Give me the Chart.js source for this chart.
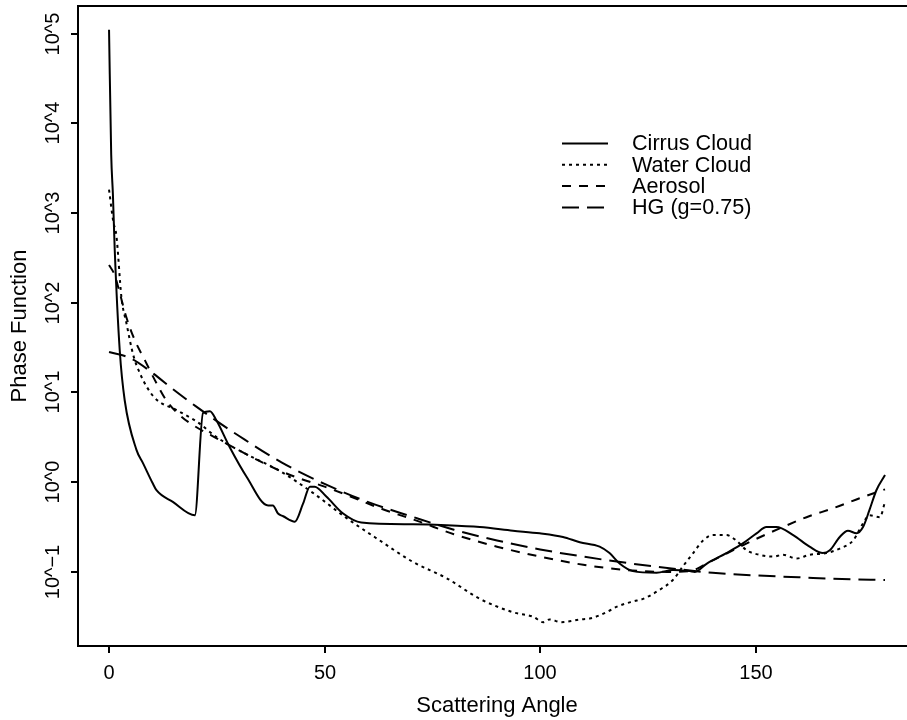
<!DOCTYPE html>
<html>
<head>
<meta charset="utf-8">
<script src="https://cdn.jsdelivr.net/npm/chart.js@4.4.1/dist/chart.umd.min.js"></script>
<style>
html,body{margin:0;padding:0;background:#fff;overflow:hidden}
#wrap{width:907px;height:720px;position:relative}
</style>
</head>
<body>
<div id="wrap"><canvas id="c" width="907" height="720"></canvas></div>
<script>
// ---- data ----
const seriesNames = ['Cirrus Cloud', 'Water Cloud', 'Aerosol', 'HG (g=0.75)'];

const cirrusAngle = [0, 0.5, 0.9, 1.32, 2.48, 3.64, 6.36, 7.9, 10.1, 11.0, 14.8, 19.9, 21.8, 23.4, 24.9, 28.0, 31.9, 36.9, 38.0, 39.2, 40.4, 43.1, 45.0, 46.6, 47.7, 50.4, 54.3, 58.5, 70.5, 78.3, 86.0, 93.7, 99.9, 105.3, 109.2, 113.8, 116.1, 118.5, 121.5, 127.0, 130.8, 134.7, 135.9, 138.6, 143.2, 147.1, 150.2, 152.5, 154.8, 158.7, 162.5, 165.6, 167.2, 169.5, 171.4, 173.4, 174.9, 176.4, 178.0, 180];
const cirrusValue = [110000, 4500, 1600, 390, 29.5, 8.13, 2.29, 1.62, 0.977, 0.813, 0.603, 0.427, 5.89, 6.17, 4.90, 2.45, 1.15, 0.55, 0.55, 0.447, 0.417, 0.363, 0.575, 0.891, 0.891, 0.692, 0.447, 0.355, 0.339, 0.331, 0.316, 0.288, 0.269, 0.245, 0.214, 0.191, 0.162, 0.123, 0.102, 0.0977, 0.105, 0.102, 0.100, 0.123, 0.162, 0.209, 0.269, 0.316, 0.316, 0.257, 0.191, 0.162, 0.174, 0.245, 0.288, 0.269, 0.316, 0.490, 0.813, 1.20];

const waterAngle = [0, 1.0, 1.7, 2.9, 4.0, 5.6, 7.3, 10.4, 15.8, 20.5, 25.0, 31.5, 39.4, 47.3, 55.1, 62.8, 70.5, 78.3, 86.0, 93.7, 98.4, 100.7, 102.2, 104.9, 109.2, 111.5, 115.4, 117.7, 121.5, 123.9, 127.7, 130.8, 133.1, 135.5, 137.8, 140.1, 143.2, 145.5, 147.9, 150.9, 154.0, 156.3, 159.5, 162.5, 166.4, 169.5, 172.6, 174.9, 176.4, 178.8, 180];
const waterValue = [1820, 794, 562, 112, 60.3, 26.3, 15.8, 8.91, 6.31, 4.68, 3.16, 2.09, 1.35, 0.759, 0.398, 0.224, 0.129, 0.0851, 0.0501, 0.0355, 0.0316, 0.0275, 0.0295, 0.0275, 0.0295, 0.0302, 0.0355, 0.0407, 0.0468, 0.0501, 0.0631, 0.0813, 0.115, 0.162, 0.224, 0.257, 0.257, 0.224, 0.174, 0.155, 0.148, 0.155, 0.141, 0.155, 0.162, 0.182, 0.224, 0.347, 0.427, 0.407, 0.603];

const aerosolAngle = [0, 1.3, 2.1, 4.0, 6.0, 8.3, 10.6, 13.3, 16.8, 20.0, 23.8, 29.9, 37.7, 43.1, 50.0, 55.0, 62.8, 72.0, 80.0, 90.0, 100.0, 110.0, 120.0, 129.3, 134.7, 139.3, 144.7, 150.2, 156.3, 161.8, 168.0, 174.1, 180];
const aerosolValue = [263, 204, 151, 69.2, 38.0, 22.9, 13.8, 8.13, 5.37, 4.17, 3.31, 2.29, 1.48, 1.15, 0.891, 0.724, 0.513, 0.363, 0.263, 0.191, 0.148, 0.120, 0.105, 0.100, 0.102, 0.129, 0.174, 0.234, 0.316, 0.407, 0.513, 0.661, 0.832];

const hgAngle = [0, 5, 10, 15, 20, 25, 30, 40, 50, 60, 70, 80, 90, 100, 110, 120, 130, 140, 150, 160, 170, 180];
const hgValue = [28.2, 24.0, 16.6, 10.7, 7.08, 4.79, 3.31, 1.66, 0.955, 0.603, 0.417, 0.295, 0.224, 0.178, 0.148, 0.126, 0.110, 0.0977, 0.0912, 0.0871, 0.0832, 0.0813];

const xTickValues = [0, 50, 100, 150];
const xTickLabels = ['0', '50', '100', '150'];
const yTickValues = [0.1, 1, 10, 100, 1000, 10000, 100000];
const yTickLabels = ['10^\u22121', '10^0', '10^1', '10^2', '10^3', '10^4', '10^5'];
const xTitle = 'Scattering Angle';
const yTitle = 'Phase Function';

// ---- build datasets ----
function pairs(xs, ys) { return xs.map((x, i) => ({ x: x, y: ys[i] })); }
const dashes = [[], [3, 4], [9, 8], [17, 8]];
const seriesData = [pairs(cirrusAngle, cirrusValue), pairs(waterAngle, waterValue), pairs(aerosolAngle, aerosolValue), pairs(hgAngle, hgValue)];

const datasets = seriesNames.map((name, i) => ({
  label: name,
  data: seriesData[i],
  borderColor: '#000',
  backgroundColor: '#000',
  borderWidth: 2,
  borderDash: dashes[i],
  pointRadius: 0,
  fill: false,
  cubicInterpolationMode: 'monotone'
}));

const FONT = '"Liberation Sans", Arial, Helvetica, sans-serif';

const framePlugin = {
  id: 'frame',
  afterDraw(chart) {
    const ctx = chart.ctx;
    const a = chart.chartArea;
    const xs = chart.scales.x, ys = chart.scales.y;
    ctx.save();
    ctx.strokeStyle = '#000';
    ctx.fillStyle = '#000';
    ctx.lineWidth = 2;
    ctx.setLineDash([]);
    // box (right side lies beyond the canvas edge)
    ctx.beginPath();
    ctx.moveTo(a.right + 2, a.top);
    ctx.lineTo(a.left, a.top);
    ctx.lineTo(a.left, a.bottom);
    ctx.lineTo(a.right + 2, a.bottom);
    ctx.stroke();
    // x ticks
    ctx.font = '20px ' + FONT;
    ctx.textAlign = 'center';
    ctx.textBaseline = 'middle';
    xTickValues.forEach((v, i) => {
      const px = Math.round(xs.getPixelForValue(v));
      ctx.beginPath();
      ctx.moveTo(px, a.bottom);
      ctx.lineTo(px, a.bottom + 7);
      ctx.stroke();
      ctx.fillText(xTickLabels[i], px, a.bottom + 27);
    });
    // y ticks
    yTickValues.forEach((v, i) => {
      const py = Math.round(ys.getPixelForValue(v));
      ctx.beginPath();
      ctx.moveTo(a.left, py);
      ctx.lineTo(a.left - 7, py);
      ctx.stroke();
      ctx.save();
      ctx.translate(a.left - 25, py);
      ctx.rotate(-Math.PI / 2);
      ctx.fillText(yTickLabels[i], 0, 0);
      ctx.restore();
    });
    // titles
    ctx.font = '22px ' + FONT;
    ctx.fillText(xTitle, xs.getPixelForValue(90), a.bottom + 60);
    ctx.save();
    ctx.translate(20, (a.top + a.bottom) / 2);
    ctx.rotate(-Math.PI / 2);
    ctx.fillText(yTitle, 0, 0);
    ctx.restore();
    // legend
    ctx.font = '21.6px ' + FONT;
    ctx.textAlign = 'left';
    const lx0 = 562, lx1 = 608, tx = 632, ly0 = 143.5, step = 21.3;
    chart.data.datasets.forEach((ds, i) => {
      const y = ly0 + i * step;
      ctx.setLineDash(ds.borderDash || []);
      ctx.lineWidth = 2;
      ctx.beginPath();
      ctx.moveTo(lx0, y);
      ctx.lineTo(lx1, y);
      ctx.stroke();
      ctx.setLineDash([]);
      ctx.fillText(ds.label, tx, y + 1);
    });
    ctx.restore();
  }
};

new Chart(document.getElementById('c'), {
  type: 'line',
  data: { datasets: datasets },
  options: {
    responsive: false,
    animation: false,
    devicePixelRatio: 1,
    parsing: true,
    layout: { padding: { left: 78, top: 6, right: 0, bottom: 74 } },
    scales: {
      x: { type: 'linear', display: false, min: -7.2, max: 185.1 },
      y: { type: 'logarithmic', display: false, min: Math.pow(10, -1.826), max: Math.pow(10, 5.307) }
    },
    plugins: { legend: { display: false }, tooltip: { enabled: false } }
  },
  plugins: [framePlugin]
});
</script>
</body>
</html>
